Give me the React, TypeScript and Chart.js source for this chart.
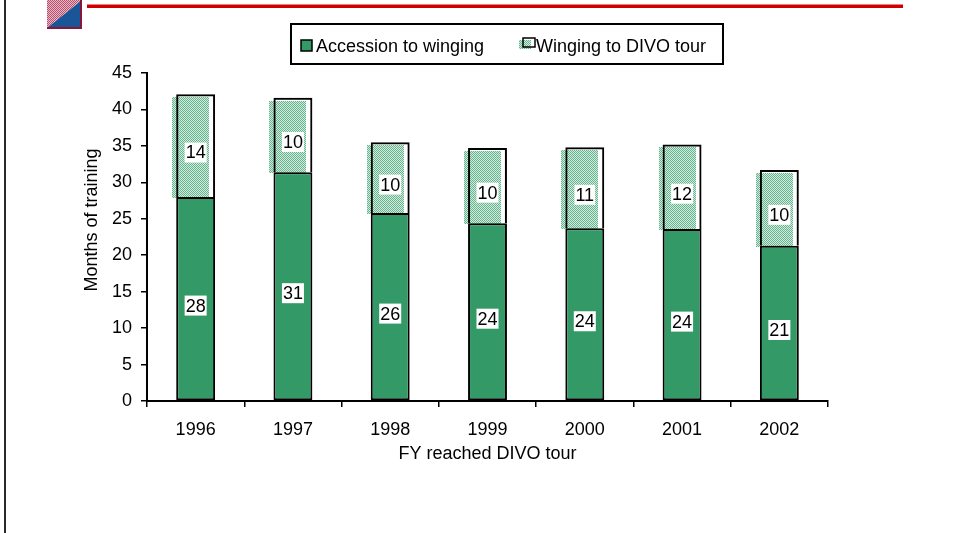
import React, { useEffect, useRef } from 'react';
import { Chart, registerables } from 'chart.js';

Chart.register(...registerables);

const categories = ['1996', '1997', '1998', '1999', '2000', '2001', '2002'];
const accessionToWinging = [28.0, 31.4, 25.8, 24.4, 23.7, 23.6, 21.3];
const wingingToDivo = [14.1, 10.2, 9.7, 10.3, 11.1, 11.6, 10.4];
const seriesNames = ['Accession to winging', 'Winging to DIVO tour'];
const yMin = 0;
const yMax = 45;
const yStep = 5;
const xTitle = 'FY reached DIVO tour';
const yTitle = 'Months of training';

const FONT = "'Liberation Sans', Arial, sans-serif";
const GREEN = '#339966';
const W = 958;
const H = 533;

function makePattern(ctx: CanvasRenderingContext2D, a: string, b: string) {
  const c = document.createElement('canvas');
  c.width = 2;
  c.height = 2;
  const p = c.getContext('2d')!;
  p.fillStyle = b;
  p.fillRect(0, 0, 2, 2);
  p.fillStyle = a;
  p.fillRect(0, 0, 1, 1);
  p.fillRect(1, 1, 1, 1);
  return ctx.createPattern(c, 'repeat')!;
}

const decorPlugin = {
  id: 'decor',
  beforeDraw(chart: any) {
    const ctx: CanvasRenderingContext2D = chart.ctx;
    ctx.save();
    ctx.fillStyle = '#ffffff';
    ctx.fillRect(0, 0, chart.width, chart.height);
    // left frame line
    ctx.fillStyle = '#2a2a2a';
    ctx.fillRect(4, 0, 2, chart.height);
    // logo
    ctx.fillStyle = makePattern(ctx, '#b8506e', '#e6b8c6');
    ctx.beginPath();
    ctx.moveTo(47, 0);
    ctx.lineTo(82, 0);
    ctx.lineTo(47, 28);
    ctx.closePath();
    ctx.fill();
    ctx.fillStyle = '#1a5597';
    ctx.beginPath();
    ctx.moveTo(82, 0);
    ctx.lineTo(82, 28);
    ctx.lineTo(47, 28);
    ctx.closePath();
    ctx.fill();
    ctx.fillStyle = '#8a1538';
    ctx.fillRect(80, 0, 2, 29);
    ctx.fillRect(47, 27, 35, 2);
    // red rule
    ctx.fillStyle = '#d00000';
    ctx.fillRect(87, 4.5, 816, 3.5);
    ctx.restore();
  },
  beforeDatasetsDraw(chart: any) {
    const ctx: CanvasRenderingContext2D = chart.ctx;
    const meta = chart.getDatasetMeta(1);
    ctx.save();
    ctx.fillStyle = makePattern(ctx, '#66b38e', '#d2ecdf');
    meta.data.forEach((el: any) => {
      const { x, y, base, width } = el.getProps(['x', 'y', 'base', 'width'], true);
      ctx.fillRect(Math.round(x - width / 2 - 4), Math.round(y + 3), Math.round(width - 2), Math.round(base - y - 2));
    });
    ctx.restore();
  },
  afterDatasetsDraw(chart: any) {
    const ctx: CanvasRenderingContext2D = chart.ctx;
    ctx.save();
    ctx.font = `18px ${FONT}`;
    ctx.textAlign = 'center';
    ctx.textBaseline = 'middle';
    chart.data.datasets.forEach((ds: any, di: number) => {
      const meta = chart.getDatasetMeta(di);
      meta.data.forEach((el: any, i: number) => {
        const { x, y, base } = el.getProps(['x', 'y', 'base'], true);
        const txt = String(Math.round(ds.data[i]));
        const tw = ctx.measureText(txt).width;
        const cy = (y + base) / 2 + 7;
        ctx.fillStyle = '#ffffff';
        ctx.fillRect(x - tw / 2 - 1, cy - 10, tw + 2, 20);
        ctx.fillStyle = '#000000';
        ctx.fillText(txt, x, cy + 1);
      });
    });
    ctx.restore();
  },
  afterDraw(chart: any) {
    const ctx: CanvasRenderingContext2D = chart.ctx;
    const ca = chart.chartArea;
    ctx.save();
    ctx.fillStyle = '#000';
    ctx.font = `18px ${FONT}`;
    // axis titles
    ctx.textAlign = 'center';
    ctx.textBaseline = 'middle';
    ctx.fillText(xTitle, (ca.left + ca.right) / 2, ca.bottom + 53);
    ctx.save();
    ctx.translate(ca.left - 55, ca.top + 147);
    ctx.rotate(-Math.PI / 2);
    ctx.fillText(yTitle, 0, 0);
    ctx.restore();
    // legend
    const lx = ca.left + 144;
    const ly = 24;
    ctx.lineWidth = 2;
    ctx.strokeStyle = '#000';
    ctx.strokeRect(lx, ly, 432, 40);
    ctx.textAlign = 'left';
    ctx.textBaseline = 'middle';
    // item 1
    ctx.fillStyle = GREEN;
    ctx.fillRect(lx + 10, ly + 16, 11, 11);
    ctx.lineWidth = 1.5;
    ctx.strokeRect(lx + 10, ly + 16, 11, 11);
    ctx.fillStyle = '#000';
    ctx.fillText(seriesNames[0], lx + 25, ly + 23);
    // item 2
    ctx.fillStyle = makePattern(ctx, '#66b38e', '#d2ecdf');
    ctx.fillRect(lx + 228, ly + 16, 12, 9);
    ctx.strokeRect(lx + 232, ly + 14, 12, 9);
    ctx.fillStyle = '#000';
    ctx.fillText(seriesNames[1], lx + 245, ly + 23);
    ctx.restore();
  },
};

export default function App() {
  const ref = useRef<HTMLCanvasElement | null>(null);
  useEffect(() => {
    if (!ref.current) return;
    const chart = new Chart(ref.current, {
      type: 'bar',
      data: {
        labels: categories,
        datasets: [
          {
            label: seriesNames[0],
            data: accessionToWinging,
            backgroundColor: GREEN,
            borderColor: '#000',
            borderWidth: 2,
            borderSkipped: false,
            barPercentage: 0.4,
            categoryPercentage: 1,
          },
          {
            label: seriesNames[1],
            data: wingingToDivo,
            backgroundColor: 'rgba(0,0,0,0)',
            borderColor: '#000',
            borderWidth: { top: 2, left: 2, right: 2, bottom: 0 },
            borderSkipped: false,
            barPercentage: 0.4,
            categoryPercentage: 1,
          },
        ],
      },
      options: {
        responsive: false,
        animation: false,
        devicePixelRatio: 1,
        layout: { padding: { left: 0, top: 73, right: 130, bottom: 82 } },
        plugins: { legend: { display: false }, tooltip: { enabled: false } },
        scales: {
          x: {
            stacked: true,
            afterFit: (s: any) => {
              s.height = 50;
            },
            grid: {
              drawOnChartArea: false,
              drawTicks: true,
              tickLength: 6,
              color: '#000',
              lineWidth: 1.5,
            },
            border: { display: true, color: '#000', width: 2 },
            ticks: {
              color: '#000',
              font: { family: FONT, size: 18 },
              padding: 12,
              maxRotation: 0,
            },
          },
          y: {
            stacked: true,
            min: yMin,
            max: yMax,
            afterFit: (s: any) => {
              s.width = 147;
            },
            grid: {
              drawOnChartArea: false,
              drawTicks: true,
              tickLength: 6,
              color: '#000',
              lineWidth: 1.5,
            },
            border: { display: true, color: '#000', width: 2 },
            ticks: {
              stepSize: yStep,
              color: '#000',
              font: { family: FONT, size: 18 },
              padding: 9,
            },
          },
        },
      },
      plugins: [decorPlugin],
    });
    return () => chart.destroy();
  }, []);
  return (
    <div style={{ position: 'absolute', left: 0, top: 0, width: W, height: H }}>
      <canvas ref={ref} width={W} height={H} style={{ display: 'block' }} />
    </div>
  );
}
